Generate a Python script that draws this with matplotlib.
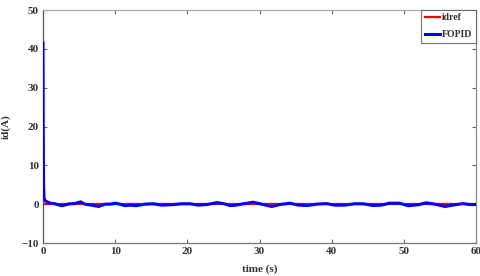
import matplotlib
matplotlib.use("Agg")
import matplotlib.pyplot as plt

t_fopid = [0.0, 0.03, 0.08, 0.15, 0.28, 0.97, 1.66, 2.6, 3.7, 4.4, 5.2, 5.8, 6.7, 7.7, 8.6, 9.3,
           10.1, 11.4, 12.1, 12.9, 14.1, 15.3, 16.4, 17.8, 19.2, 20.4, 21.5, 22.7, 24.1, 25.0,
           25.9, 26.6, 27.5, 29.1, 30.3, 31.7, 32.8, 34.2, 35.4, 36.7, 37.9, 39.3, 40.4, 41.8,
           43.2, 44.4, 45.7, 46.9, 48.0, 49.4, 50.6, 52.0, 53.1, 54.3, 55.7, 56.8, 58.2, 59.1, 60.0]
id_fopid = [41.5, 20.0, 5.0, 1.5, 0.9, 0.25, 0.1, -0.4, 0.1, 0.15, 0.6, 0.0, -0.25, -0.6, 0.0, 0.0,
            0.25, -0.4, -0.25, -0.4, 0.0, 0.1, -0.25, -0.15, 0.1, 0.1, -0.25, -0.1, 0.4, 0.15,
            -0.35, -0.3, 0.0, 0.5, 0.0, -0.6, -0.1, 0.25, -0.25, -0.35, 0.0, 0.15, -0.25, -0.25,
            0.1, 0.1, -0.35, -0.25, 0.25, 0.25, -0.4, -0.15, 0.35, 0.0, -0.6, -0.25, 0.15, -0.1, -0.1]
t_ref = [0.0, 60.0]
id_ref = [0.0, 0.0]

xticks = [0, 10, 20, 30, 40, 50, 60]
yticks = [-10, 0, 10, 20, 30, 40, 50]

font = {'family': 'Liberation Serif', 'weight': 'bold', 'size': 8}
fp = matplotlib.font_manager.FontProperties(**font)
fp_leg = matplotlib.font_manager.FontProperties(family='Liberation Serif', weight='bold', size=7)

fig = plt.figure(figsize=(4.8, 2.76), dpi=100)
ax = fig.add_axes([43/480, 1-243/276, (476-43)/480, (243-10)/276])
ax.plot(t_ref, id_ref, color='red', lw=1.6, label='idref', zorder=2)
ax.plot(t_fopid, id_fopid, color='blue', lw=2.2, label='FOPID', zorder=3)
ax.set_xlim(0, 60)
ax.set_ylim(-10, 50)
ax.set_xticks(xticks)
ax.set_yticks(yticks)
ax.tick_params(direction='in', top=True, right=True, length=3, width=0.8, colors='#666666',
               labelcolor='#333333', pad=3)
for lab in ax.get_xticklabels() + ax.get_yticklabels():
    lab.set_fontproperties(fp)
ax.spines['left'].set_color('#555555')
ax.spines['bottom'].set_color('#777777')
ax.spines['top'].set_color('#aaaaaa')
ax.spines['right'].set_color('#888888')
for s in ax.spines.values():
    s.set_linewidth(0.9)
ax.set_xlabel('time (s)', fontdict=font, color='#333333', labelpad=6)
ax.set_ylabel('id(A)', fontdict=font, color='#333333', labelpad=8)
leg = ax.legend(loc='upper right', prop=fp_leg,
                frameon=True, fancybox=False, borderaxespad=0, handlelength=1.6,
                handletextpad=0.2, borderpad=0.35, labelspacing=0.8)
leg.get_frame().set_edgecolor('#555555')
leg.get_frame().set_linewidth(0.8)
for txt in leg.get_texts():
    txt.set_color('#333333')
fig.savefig('out.png', dpi=100)
